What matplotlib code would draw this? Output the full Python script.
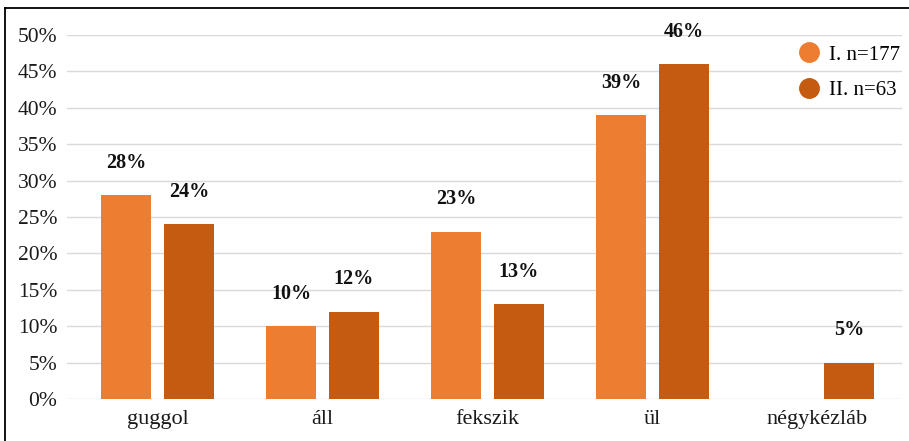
import numpy as np
import matplotlib
matplotlib.use("Agg")
import matplotlib.pyplot as plt
from matplotlib.lines import Line2D
from matplotlib.ticker import PercentFormatter

categories = ["guggol", "áll", "fekszik", "ül", "négykézláb"]
series_names = ["I. n=177", "II. n=63"]
values_1 = [28, 10, 23, 39, 0]
values_2 = [24, 12, 13, 46, 5]
colors = ["#ED7D31", "#C55A11"]

plt.rcParams["font.family"] = ["Liberation Serif", "DejaVu Serif"]

fig = plt.figure(figsize=(9.09, 4.41), dpi=100)
ax = fig.add_axes([0.0737, 0.0952, 0.9186, 0.8254])

x = np.arange(len(categories))
width = 0.305
offset = 0.19

for vals, dx, col in [(values_1, -offset, colors[0]), (values_2, offset, colors[1])]:
    bars = ax.bar(x + dx, vals, width, color=col, zorder=3)
    for b, v in zip(bars, vals):
        if v == 0:
            continue
        ax.annotate(f"{v}%", (b.get_x() + b.get_width() / 2, v),
                    xytext=(0, 16), textcoords="offset points",
                    ha="center", va="bottom", fontsize=14.5,
                    fontweight="bold", color="#111111", clip_on=False)

ax.set_xlim(-0.548, 4.512)
ax.set_ylim(0, 50)
ax.set_yticks(np.arange(0, 51, 5))
ax.yaxis.set_major_formatter(PercentFormatter(decimals=0))
ax.set_xticks(x)
ax.set_xticklabels(categories)
ax.tick_params(axis="both", length=0, labelsize=16, colors="#1a1a1a")
ax.tick_params(axis="y", labelsize=15.5, pad=7)
ax.tick_params(axis="x", pad=8)
ax.grid(axis="y", color="#D9D9D9", linewidth=1, zorder=0)
for s in ax.spines.values():
    s.set_visible(False)

handles = [Line2D([], [], marker="o", linestyle="", markersize=14,
                  markerfacecolor=c, markeredgecolor=c) for c in colors]
ax.legend(handles, series_names, loc="upper right", bbox_to_anchor=(1.0, 0.978),
          frameon=False, fontsize=15, handletextpad=0.25, labelspacing=0.75,
          borderaxespad=0.0, borderpad=0.1, handlelength=1.4)

fig.add_artist(Line2D([5 / 909, 5 / 909], [0, 1 - 8 / 441], color="black",
                      linewidth=1.3, transform=fig.transFigure))
fig.add_artist(Line2D([5 / 909, 1], [1 - 8 / 441, 1 - 8 / 441], color="black",
                      linewidth=1.3, transform=fig.transFigure))

fig.savefig("out.png", dpi=100)
